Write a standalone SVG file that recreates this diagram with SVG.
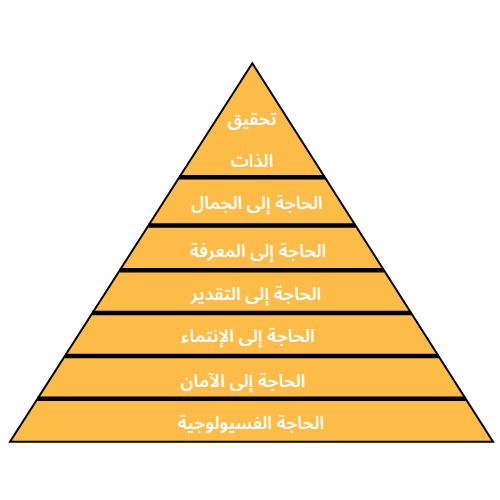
<svg xmlns="http://www.w3.org/2000/svg" width="500" height="500" viewBox="0 0 500 500">
<style>
.layer{fill:#FDBB48;stroke:none}
.lbl{fill:#FFFFFF;font-family:"Noto Sans Arabic","Noto Naskh Arabic","Noto Kufi Arabic","DejaVu Sans",sans-serif;font-size:18px;font-weight:600;text-anchor:middle;dominant-baseline:central;direction:rtl}
.sep{stroke:#000000;stroke-width:4.5}
.outline{fill:none;stroke:#000000;stroke-width:2;stroke-linejoin:miter}
</style>
<rect width="500" height="500" fill="#FFFFFF"/>
<g id="node-self-actualization">
<polygon class="layer" points="252.3,63.3 324.8,177.3 179.3,177.3"/>
<text class="lbl" x="252" y="119">تحقيق</text>
<text class="lbl" x="252" y="161">الذات</text>
</g>
<g id="node-aesthetic">
<polygon class="layer" points="179.3,177.3 324.8,177.3 355.5,225.5 148.4,225.5"/>
<text class="lbl" x="257" y="203">الحاجة إلى الجمال</text>
</g>
<g id="node-cognitive">
<polygon class="layer" points="148.4,225.5 355.5,225.5 384,270.3 119.8,270.3"/>
<text class="lbl" x="258" y="251">الحاجة إلى المعرفة</text>
</g>
<g id="node-esteem">
<polygon class="layer" points="119.8,270.3 384,270.3 411.1,313 92.4,313"/>
<text class="lbl" x="256" y="294">الحاجة إلى التقدير</text>
</g>
<g id="node-belonging">
<polygon class="layer" points="92.4,313 411.1,313 438.5,356 64.9,356"/>
<text class="lbl" x="248" y="336">الحاجة إلى الإنتماء</text>
</g>
<g id="node-safety">
<polygon class="layer" points="64.9,356 438.5,356 465.6,398.7 37.5,398.7"/>
<text class="lbl" x="243" y="381">الحاجة إلى الآمان</text>
</g>
<g id="node-physiological">
<polygon class="layer" points="37.5,398.7 465.6,398.7 493,441.7 10,441.7"/>
<text class="lbl" x="251" y="423">الحاجة الفسيولوجية</text>
</g>
<g id="connectors">
<line class="sep" x1="179.3" y1="177.3" x2="324.8" y2="177.3"/>
<line class="sep" x1="148.4" y1="225.5" x2="355.5" y2="225.5"/>
<line class="sep" x1="119.8" y1="270.3" x2="384" y2="270.3"/>
<line class="sep" x1="92.4" y1="313" x2="411.1" y2="313"/>
<line class="sep" x1="64.9" y1="356" x2="438.5" y2="356"/>
<line class="sep" x1="37.5" y1="398.7" x2="465.6" y2="398.7"/>
<polygon class="outline" points="252.3,63.3 493,441.7 10,441.7"/>
</g>
</svg>
